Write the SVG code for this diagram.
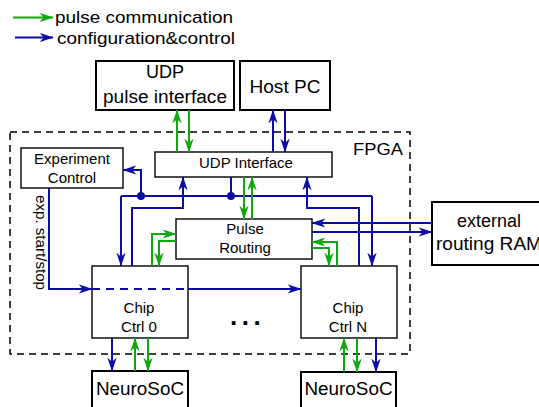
<svg xmlns="http://www.w3.org/2000/svg" width="539" height="407" viewBox="0 0 539 407">
<style>
.box{fill:#fff;stroke:#000;stroke-width:1.4}
.bbox{fill:#fff;stroke:#000;stroke-width:2}
.t{font-family:"Liberation Sans",Arial,sans-serif;fill:#000}
.b{fill:none;stroke:#0c0ca6;stroke-width:2}
.g{fill:none;stroke:#10a810;stroke-width:2}
.ba{marker-end:url(#ab)}
.ga{marker-end:url(#ag)}
</style>
<defs>
<marker id="ab" markerUnits="userSpaceOnUse" markerWidth="14" markerHeight="10" refX="11.5" refY="4" orient="auto" viewBox="0 0 12 8"><path d="M0,0 L12,4 L0,8 L3.5,4 Z" fill="#0c0ca6"/></marker>
<marker id="ag" markerUnits="userSpaceOnUse" markerWidth="14" markerHeight="10" refX="11.5" refY="4" orient="auto" viewBox="0 0 12 8"><path d="M0,0 L12,4 L0,8 L3.5,4 Z" fill="#10a810"/></marker>
</defs>
<rect width="539" height="407" fill="#fff"/>

<g id="legend">
<line class="g ga" x1="13" y1="17.5" x2="53" y2="17.5"/>
<text class="t" x="55" y="23" font-size="17" textLength="178" lengthAdjust="spacingAndGlyphs">pulse communication</text>
<line class="b ba" x1="15" y1="37.5" x2="53" y2="37.5"/>
<text class="t" x="57" y="44" font-size="17" textLength="178" lengthAdjust="spacingAndGlyphs">configuration&amp;control</text>
</g>

<g id="fpga">
<rect x="10" y="132" width="400" height="222" fill="none" stroke="#000" stroke-width="1.5" stroke-dasharray="7,5"/>
<text class="t" x="353" y="155" font-size="16" textLength="50" lengthAdjust="spacingAndGlyphs">FPGA</text>
</g>

<g id="udp-pulse">
<rect class="bbox" x="96" y="61" width="138" height="49"/>
<text class="t" x="165" y="78" font-size="18" text-anchor="middle">UDP</text>
<text class="t" x="165" y="103" font-size="18" text-anchor="middle" textLength="124" lengthAdjust="spacingAndGlyphs">pulse interface</text>
</g>
<g id="host-pc">
<rect class="bbox" x="240" y="61" width="90" height="49"/>
<text class="t" x="285" y="93" font-size="18" text-anchor="middle" textLength="71" lengthAdjust="spacingAndGlyphs">Host PC</text>
</g>
<g id="experiment-control">
<rect class="box" x="21" y="148" width="102" height="40"/>
<text class="t" x="72" y="164" font-size="15" text-anchor="middle">Experiment</text>
<text class="t" x="72" y="183" font-size="15" text-anchor="middle">Control</text>
</g>
<g id="udp-interface">
<rect class="box" x="155" y="152" width="177" height="25"/>
<text class="t" x="246" y="168" font-size="15" text-anchor="middle">UDP Interface</text>
</g>
<g id="pulse-routing">
<rect class="box" x="176" y="219" width="136" height="40"/>
<text class="t" x="245" y="234" font-size="15" text-anchor="middle">Pulse</text>
<text class="t" x="245" y="253" font-size="15" text-anchor="middle">Routing</text>
</g>
<g id="external-ram">
<rect class="bbox" x="432" y="202" width="130" height="63"/>
<text class="t" x="489" y="227" font-size="18" text-anchor="middle">external</text>
<text class="t" x="436" y="250" font-size="18" textLength="106" lengthAdjust="spacingAndGlyphs">routing RAM</text>
</g>
<g id="chip-ctrl-0">
<rect class="box" x="92" y="266" width="96" height="72"/>
<text class="t" x="139" y="313" font-size="15" text-anchor="middle">Chip</text>
<text class="t" x="139" y="332" font-size="15" text-anchor="middle">Ctrl 0</text>
</g>
<g id="chip-ctrl-n">
<rect class="box" x="301" y="266" width="96" height="72"/>
<text class="t" x="348" y="313" font-size="15" text-anchor="middle">Chip</text>
<text class="t" x="348" y="332" font-size="15" text-anchor="middle">Ctrl N</text>
</g>
<text class="t" x="230" y="325" font-size="26" font-weight="bold" letter-spacing="4.5">...</text>
<g id="neurosoc-0">
<rect class="bbox" x="92" y="371" width="96" height="40"/>
<text class="t" x="140" y="395" font-size="18" text-anchor="middle" textLength="88" lengthAdjust="spacingAndGlyphs">NeuroSoC</text>
</g>
<g id="neurosoc-n">
<rect class="bbox" x="301" y="372" width="95" height="40"/>
<text class="t" x="348.5" y="395" font-size="18" text-anchor="middle" textLength="88" lengthAdjust="spacingAndGlyphs">NeuroSoC</text>
</g>

<g id="connectors">
<line class="g ga" x1="177" y1="152" x2="177" y2="110"/>
<line class="g ga" x1="189" y1="110" x2="189" y2="152"/>
<line class="b ba" x1="273" y1="152" x2="273" y2="110"/>
<line class="b ba" x1="285" y1="110" x2="285" y2="152"/>
<line class="b" x1="231" y1="177" x2="231" y2="196"/>
<line class="b ba" x1="121" y1="196" x2="121" y2="266"/>
<line class="b" x1="121" y1="196" x2="372" y2="196"/>
<line class="b ba" x1="372" y1="196" x2="372" y2="266"/>
<polyline class="b ba" points="141,196 141,170 123,170"/>
<circle cx="141" cy="196" r="4" fill="#0c0ca6"/>
<circle cx="231" cy="196" r="4" fill="#0c0ca6"/>
<polyline class="b ba" points="132,266 132,208 183,208 183,177"/>
<polyline class="b ba" points="359,266 359,208 307,208 307,177"/>
<line class="g ga" x1="244" y1="177" x2="244" y2="219"/>
<line class="g ga" x1="252" y1="219" x2="252" y2="177"/>
<polyline class="g ga" points="152,266 152,234 176,234"/>
<polyline class="g ga" points="176,241 159,241 159,266"/>
<polyline class="g ga" points="337,266 337,242 312,242"/>
<polyline class="g ga" points="312,248 329,248 329,266"/>
<line class="b ba" x1="432" y1="223" x2="312" y2="223"/>
<line class="b ba" x1="312" y1="232" x2="432" y2="232"/>
<polyline class="b ba" points="49,188 49,289 92,289"/>
<line class="b" x1="92" y1="289" x2="188" y2="289" stroke-dasharray="8,6"/>
<line class="b ba" x1="188" y1="289" x2="301" y2="289"/>
<line class="b ba" x1="112" y1="338" x2="112" y2="371"/>
<line class="g ga" x1="135" y1="371" x2="135" y2="338"/>
<line class="g ga" x1="148" y1="338" x2="148" y2="371"/>
<line class="g ga" x1="344" y1="372" x2="344" y2="338"/>
<line class="g ga" x1="357" y1="338" x2="357" y2="372"/>
<line class="b ba" x1="376" y1="338" x2="376" y2="372"/>
</g>
<text class="t" font-size="15" transform="translate(36,195) rotate(90)" textLength="95" lengthAdjust="spacingAndGlyphs">exp. start/stop</text>
</svg>
